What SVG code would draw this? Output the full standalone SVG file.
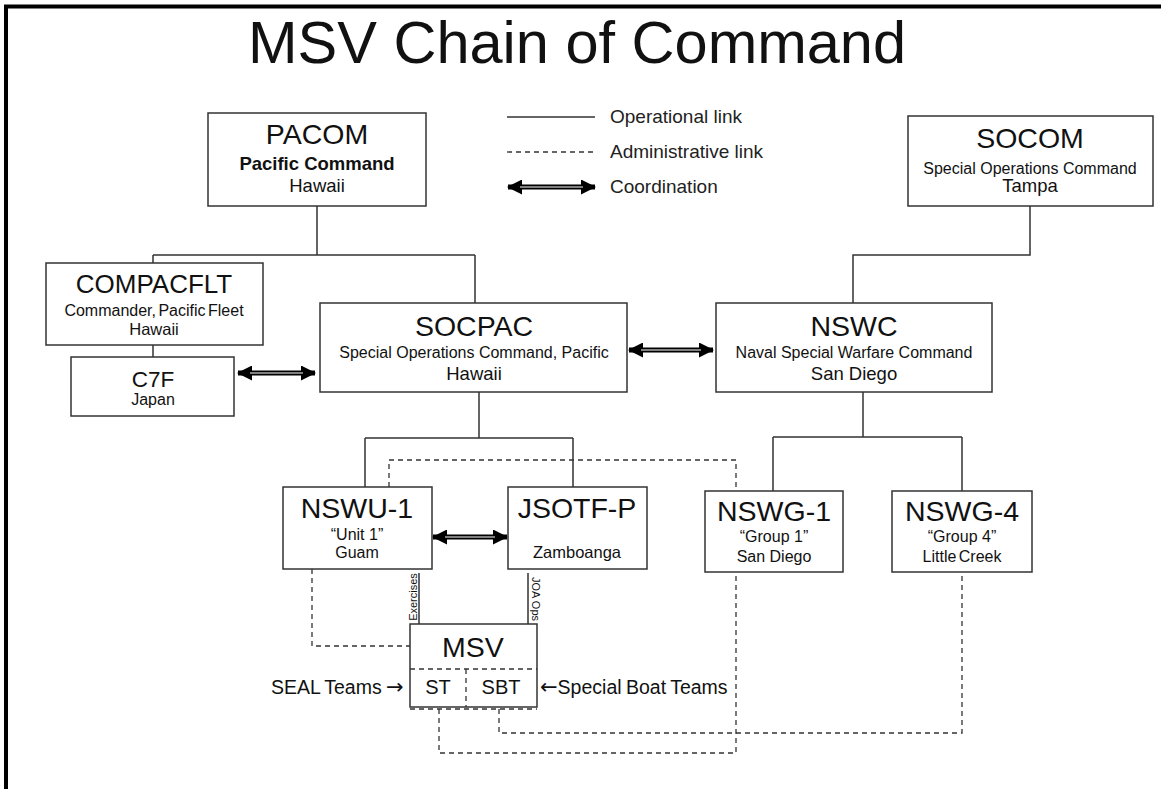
<svg xmlns="http://www.w3.org/2000/svg" width="1161" height="789" viewBox="0 0 1161 789">
<style>
text{font-family:"Liberation Sans",Arial,sans-serif;fill:#111;text-anchor:middle}
.box{fill:#fff;stroke:#333;stroke-width:1.5}
.op{fill:none;stroke:#333;stroke-width:1.5}
.adm{fill:none;stroke:#333;stroke-width:1.3;stroke-dasharray:5,4}
.big{font-size:28.5px}
.sub{font-size:16px}
.loc{font-size:18.5px}
.co{stroke:#000;stroke-width:5;marker-start:url(#ah);marker-end:url(#ah)}
.coi{stroke:#aaa;stroke-width:1.5}
.lg{font-size:19px;text-anchor:start;fill:#222}
.rot{font-size:11px}
.side{font-size:19.5px;text-anchor:start;word-spacing:-1px}
.arr{font-family:"DejaVu Sans",sans-serif;font-size:21px}
</style>
<defs>
<marker id="ah" markerUnits="userSpaceOnUse" viewBox="0 0 15 15" markerWidth="15" markerHeight="15" refX="14" refY="7.5" orient="auto-start-reverse">
<path d="M0,0 L15,7.5 L0,15 z" fill="#000"/>
</marker>
</defs>
<rect width="1161" height="789" fill="#fff"/>
<path d="M6,789 V6.5 H1161" fill="none" stroke="#000" stroke-width="4"/>
<text x="577" y="63" style="font-size:59.5px">MSV Chain of Command</text>

<g id="legend">
<line x1="507" y1="117" x2="595" y2="117" class="op"/>
<text x="610" y="123" class="lg">Operational link</text>
<line x1="507" y1="152" x2="595" y2="152" class="adm"/>
<text x="610" y="158" class="lg">Administrative link</text>
<line x1="508" y1="187" x2="595" y2="187" class="co"/>
<line x1="520" y1="187" x2="583" y2="187" class="coi"/>
<text x="610" y="193" class="lg">Coordination</text>
</g>

<g id="connectors">
<path class="op" d="M317,206 V255 M153,255 H475 M153,255 V263 M475,255 V303"/>
<path class="op" d="M153,345 V357"/>
<path class="op" d="M1030,206 V255 H853 V303"/>
<path class="op" d="M479,392 V438 M365,438 H573 M365,438 V487 M573,438 V487"/>
<path class="op" d="M863,392 V437 M773,437 H962 M773,437 V491 M962,437 V491"/>
<path class="op" d="M419,573 V624 M528,573 V624"/>
<path class="adm" d="M389,487 V460 H736 V491"/>
<path class="adm" d="M312,569 V646 H410"/>
<path class="adm" d="M439,709 V753 H736 V572"/>
<path class="adm" d="M499,709 V733 H962 V572"/>
<line x1="238" y1="373" x2="315" y2="373" class="co"/>
<line x1="250" y1="373" x2="303" y2="373" class="coi"/>
<line x1="629" y1="350" x2="713" y2="350" class="co"/>
<line x1="641" y1="350" x2="701" y2="350" class="coi"/>
<line x1="433" y1="537" x2="507" y2="537" class="co"/>
<line x1="445" y1="537" x2="495" y2="537" class="coi"/>
<text class="rot" transform="translate(416.5,597) rotate(-90)">Exercises</text>
<text class="rot" transform="translate(532,599) rotate(90)">JOA Ops</text>
</g>

<g id="pacom">
<rect class="box" x="208" y="113" width="218" height="93"/>
<text x="317" y="144" class="big">PACOM</text>
<text x="317" y="170" style="font-size:18.5px;font-weight:bold">Pacific Command</text>
<text x="317" y="192" class="loc">Hawaii</text>
</g>

<g id="socom">
<rect class="box" x="908" y="116" width="245" height="90"/>
<text x="1030" y="148" class="big">SOCOM</text>
<text x="1030" y="174" class="sub">Special Operations Command</text>
<text x="1030" y="192" class="loc">Tampa</text>
</g>

<g id="compacflt">
<rect class="box" x="46" y="263" width="217" height="82"/>
<text x="154" y="293" style="font-size:26px">COMPACFLT</text>
<text x="154" y="316" class="sub" style="word-spacing:-2px">Commander, Pacific Fleet</text>
<text x="154" y="335" style="font-size:16.5px">Hawaii</text>
</g>

<g id="c7f">
<rect class="box" x="71" y="357" width="163" height="59"/>
<text x="153" y="387" style="font-size:22.5px">C7F</text>
<text x="153" y="405" class="sub">Japan</text>
</g>

<g id="socpac">
<rect class="box" x="320" y="303" width="307" height="89"/>
<text x="474" y="336" class="big">SOCPAC</text>
<text x="474" y="358" class="sub">Special Operations Command, Pacific</text>
<text x="474" y="380" class="loc">Hawaii</text>
</g>

<g id="nswc">
<rect class="box" x="716" y="303" width="276" height="89"/>
<text x="854" y="336" class="big">NSWC</text>
<text x="854" y="358" class="sub">Naval Special Warfare Command</text>
<text x="854" y="380" class="loc">San Diego</text>
</g>

<g id="nswu1">
<rect class="box" x="283" y="487" width="149" height="82"/>
<text x="357" y="518" class="big">NSWU-1</text>
<text x="357" y="540" class="sub">“Unit 1”</text>
<text x="357" y="558" class="sub">Guam</text>
</g>

<g id="jsotfp">
<rect class="box" x="508" y="487" width="139" height="82"/>
<text x="577" y="518" class="big">JSOTF-P</text>
<text x="577" y="558" style="font-size:16.5px">Zamboanga</text>
</g>

<g id="nswg1">
<rect class="box" x="705" y="491" width="138" height="81"/>
<text x="774" y="521" class="big">NSWG-1</text>
<text x="774" y="542" class="sub">“Group 1”</text>
<text x="774" y="562" class="sub">San Diego</text>
</g>

<g id="nswg4">
<rect class="box" x="892" y="491" width="140" height="81"/>
<text x="962" y="521" class="big">NSWG-4</text>
<text x="962" y="542" class="sub">“Group 4”</text>
<text x="962" y="562" class="sub" style="word-spacing:-2px">Little Creek</text>
</g>

<g id="msv">
<rect class="box" x="410" y="624" width="127" height="83"/>
<line class="adm" x1="410" y1="669" x2="537" y2="669"/>
<line class="adm" x1="466" y1="669" x2="466" y2="707"/>
<line class="adm" x1="410" y1="709" x2="537" y2="709"/>
<text x="473" y="657" class="big">MSV</text>
<text x="438" y="694" style="font-size:20px">ST</text>
<text x="501" y="694" style="font-size:20px">SBT</text>
</g>

<g id="seal-teams">
<text x="271" y="694" class="side">SEAL Teams <tspan class="arr">→</tspan></text>
</g>
<g id="special-boat-teams">
<text x="540" y="694" class="side"><tspan class="arr">←</tspan>Special Boat Teams</text>
</g>
</svg>
